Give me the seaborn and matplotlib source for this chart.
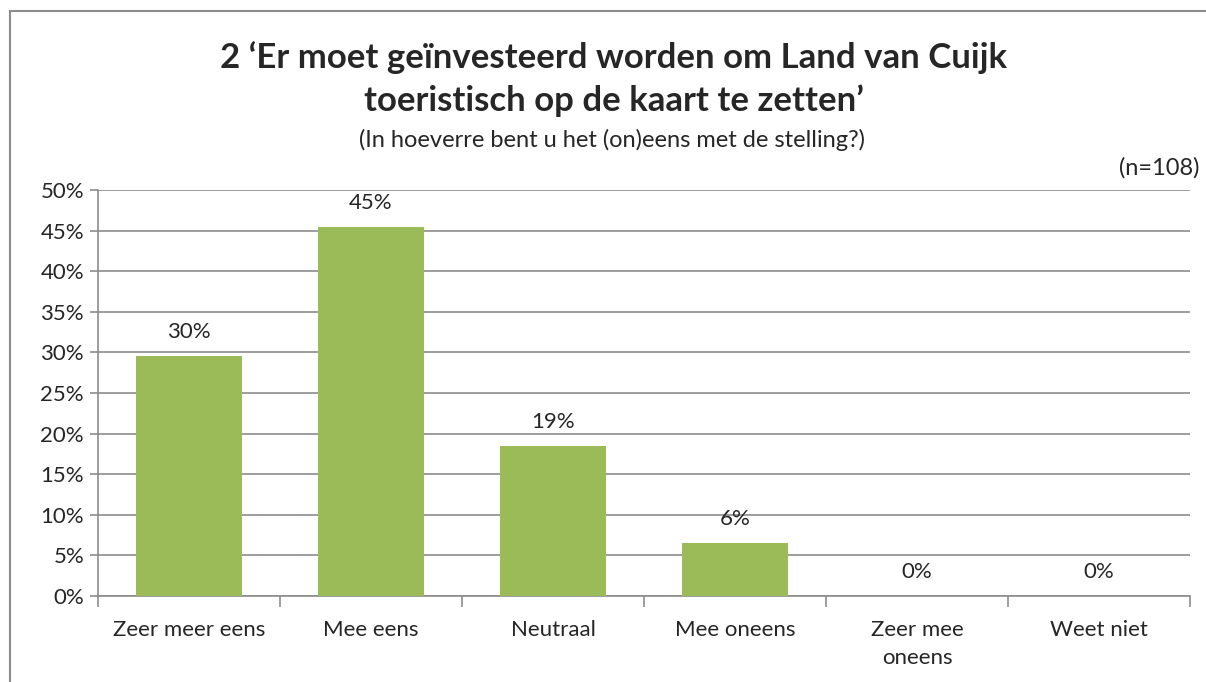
import matplotlib
matplotlib.use("Agg")
import matplotlib.pyplot as plt
import matplotlib.patches as mpatches
from matplotlib.ticker import FuncFormatter, FixedLocator
import pandas as pd
import seaborn as sns

categories = ["Zeer meer eens", "Mee eens", "Neutraal", "Mee oneens", "Zeer mee\noneens", "Weet niet"]
shares = [29.6, 45.4, 18.5, 6.5, 0.0, 0.0]
labels = ["30%", "45%", "19%", "6%", "0%", "0%"]

title = "2 \u2018Er moet geïnvesteerd worden om Land van Cuijk\ntoeristisch op de kaart te zetten\u2019"
subtitle = "(In hoeverre bent u het (on)eens met de stelling?)"
n_note = "(n=108)"

sns.set_style("white")
plt.rcParams["font.family"] = ["Lato", "DejaVu Sans"]

df = pd.DataFrame({"cat": categories, "share": shares})

fig = plt.figure(figsize=(12.06, 6.82), dpi=100)
ax = fig.add_axes([98 / 1206, 1 - 596 / 682, (1190 - 98) / 1206, (596 - 190) / 682])

sns.barplot(data=df, x="cat", y="share", color="#9BBB59", saturation=1, width=0.58,
            linewidth=0, ax=ax, zorder=3)

ax.set_ylim(0, 50)
ax.set_xlim(-0.5, len(categories) - 0.5)
ax.set_yticks(range(0, 51, 5))
ax.yaxis.set_major_formatter(FuncFormatter(lambda v, p: f"{v:.0f}%"))
ax.yaxis.grid(True, color="#8c8c8c", linewidth=1.2, zorder=0)
ax.set_axisbelow(True)
ax.set_xlabel("")
ax.set_ylabel("")

# tick marks between categories, labels centred
ax.xaxis.set_major_locator(FixedLocator([i - 0.5 for i in range(len(categories) + 1)]))
ax.xaxis.set_major_formatter(FuncFormatter(lambda v, p: ""))
ax.xaxis.set_minor_locator(FixedLocator(range(len(categories))))
ax.set_xticklabels(categories, minor=True, linespacing=1.55)
ax.tick_params(axis="x", which="major", length=8, width=1.2, color="#8c8c8c", direction="out", bottom=True)
ax.tick_params(axis="x", which="minor", length=0, pad=17, labelsize=16)
ax.tick_params(axis="y", length=6, width=1.2, color="#8c8c8c", direction="out", left=True, labelsize=16, pad=4)

for side in ["top", "right"]:
    ax.spines[side].set_visible(False)
for side in ["left", "bottom"]:
    ax.spines[side].set_color("#8c8c8c")
    ax.spines[side].set_linewidth(1.2)

for i, (v, lab) in enumerate(zip(shares, labels)):
    ax.annotate(lab, (i, v), xytext=(0, 10), textcoords="offset points",
                ha="center", va="bottom", fontsize=16)

fig.text(614 / 1206, 1 - 79 / 682, title, ha="center", va="center", fontsize=25,
         fontweight="bold", linespacing=1.4)
fig.text(612 / 1206, 1 - 140 / 682, subtitle, ha="center", va="center", fontsize=17)
fig.text(1200 / 1206, 1 - 168 / 682, n_note, ha="right", va="center", fontsize=17)

fig.patches.append(mpatches.Rectangle((10 / 1206, -0.05), 1.0, 1 - 11 / 682 + 0.05,
                                      transform=fig.transFigure, fill=False,
                                      edgecolor="#8c8c8c", linewidth=1.5))

fig.savefig("out.png", dpi=100, facecolor="white")
